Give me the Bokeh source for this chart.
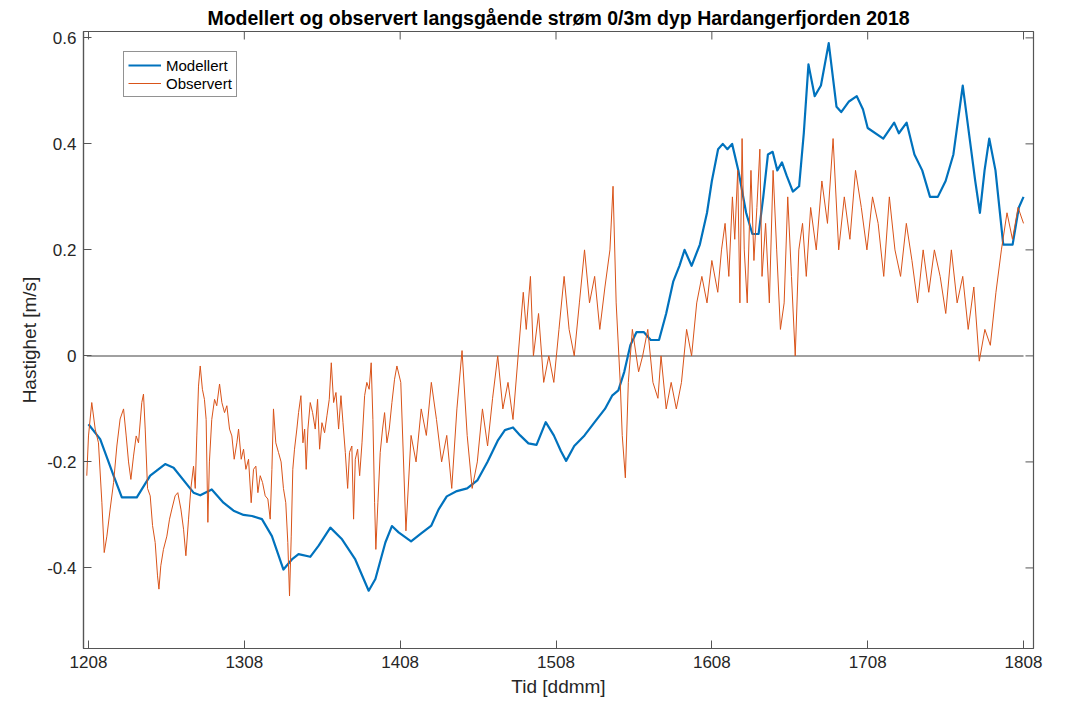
from bokeh.plotting import figure
from bokeh.models import FixedTicker, Legend, LegendItem, Range1d, ColumnDataSource
from bokeh.embed import file_html
from bokeh.resources import INLINE

# ---------------- data ----------------
title_text = "Modellert og observert langsgående strøm 0/3m dyp Hardangerfjorden 2018"
x_label = "Tid [ddmm]"
y_label = "Hastighet [m/s]"
series_names = ["Modellert", "Observert"]

x_ticks = [12, 13, 14, 15, 16, 17, 18]
x_tick_labels = ["1208", "1308", "1408", "1508", "1608", "1708", "1808"]
y_ticks = [-0.4, -0.2, 0, 0.2, 0.4, 0.6]
y_tick_labels = ["-0.4", "-0.2", "0", "0.2", "0.4", "0.6"]

# time in days of August 2018
mod_t = [12.0, 12.075, 12.161, 12.214, 12.31, 12.396, 12.492, 12.546, 12.674, 12.717,
         12.791, 12.866, 12.931, 12.995, 13.049, 13.113, 13.177, 13.251, 13.305, 13.348,
         13.423, 13.477, 13.552, 13.627, 13.712, 13.798, 13.841, 13.905, 13.947, 13.99,
         14.07, 14.135, 14.2, 14.246, 14.299, 14.364, 14.43, 14.495, 14.56, 14.626,
         14.672, 14.724, 14.77, 14.823, 14.875, 14.934, 14.986, 15.032, 15.065, 15.117,
         15.183, 15.248, 15.314, 15.36, 15.4, 15.438, 15.477, 15.517, 15.563, 15.608,
         15.661, 15.707, 15.752, 15.792, 15.825, 15.87, 15.923, 15.969,
         16.0, 16.04, 16.07, 16.1, 16.13, 16.17, 16.22, 16.26, 16.3, 16.33,
         16.36, 16.39, 16.42, 16.45, 16.48, 16.52, 16.56, 16.59, 16.62, 16.66,
         16.7, 16.75, 16.8, 16.83, 16.88, 16.93, 16.97, 17.0,
         17.1, 17.17, 17.2, 17.25, 17.3, 17.35, 17.4, 17.45, 17.5, 17.55,
         17.61, 17.65, 17.69, 17.72, 17.75, 17.78, 17.82, 17.87, 17.93, 17.97, 18.0]
mod_v = [-0.129, -0.157, -0.226, -0.267, -0.267, -0.226, -0.204, -0.211, -0.258, -0.263,
         -0.252, -0.277, -0.292, -0.30, -0.302, -0.308, -0.34, -0.403, -0.384, -0.374,
         -0.379, -0.358, -0.324, -0.346, -0.384, -0.443, -0.421, -0.352, -0.321, -0.333,
         -0.35, -0.335, -0.32, -0.29, -0.265, -0.255, -0.25, -0.235, -0.2, -0.16,
         -0.14, -0.135, -0.15, -0.165, -0.168, -0.125, -0.15, -0.18, -0.198, -0.17,
         -0.15, -0.125, -0.1, -0.075, -0.065, -0.03, 0.02, 0.045, 0.045, 0.03,
         0.03, 0.08, 0.14, 0.17, 0.2, 0.17, 0.21, 0.27,
         0.33, 0.39, 0.40, 0.39, 0.40, 0.35, 0.27, 0.23, 0.23, 0.30,
         0.38, 0.385, 0.35, 0.365, 0.34, 0.31, 0.32, 0.42, 0.55, 0.49,
         0.51, 0.59, 0.47, 0.46, 0.48, 0.49, 0.465, 0.43,
         0.41, 0.44, 0.42, 0.44, 0.38, 0.35, 0.30, 0.30, 0.33, 0.38,
         0.51, 0.42, 0.33, 0.27, 0.35, 0.41, 0.35, 0.21, 0.21, 0.28, 0.30]

obs_t = [11.989, 12.0, 12.021, 12.043, 12.064, 12.086, 12.101, 12.118, 12.139, 12.161,
         12.182, 12.203, 12.225, 12.242, 12.257, 12.272, 12.289, 12.306, 12.321, 12.342,
         12.353, 12.364, 12.379, 12.396, 12.411, 12.428, 12.443, 12.452, 12.464, 12.481,
         12.503, 12.52, 12.535, 12.556, 12.573, 12.593, 12.61, 12.625, 12.642, 12.657,
         12.674, 12.685, 12.695, 12.706, 12.717, 12.731, 12.744, 12.755, 12.766, 12.776,
         12.791, 12.809, 12.823, 12.841, 12.856, 12.873, 12.888, 12.905, 12.92, 12.935,
         12.952,
         12.963, 12.98, 12.995, 13.01, 13.027, 13.044, 13.059, 13.074, 13.087, 13.102,
         13.117, 13.134, 13.151, 13.166, 13.177, 13.187, 13.202, 13.219, 13.236, 13.251,
         13.266, 13.279, 13.29, 13.301, 13.311, 13.322, 13.337, 13.348, 13.363, 13.376,
         13.387, 13.397, 13.408, 13.423, 13.438, 13.455, 13.47, 13.483, 13.498, 13.515,
         13.53, 13.545, 13.558, 13.573, 13.588, 13.605, 13.62, 13.633, 13.648, 13.663,
         13.675, 13.69, 13.701, 13.712, 13.727, 13.74, 13.755, 13.772, 13.786, 13.801,
         13.814, 13.825, 13.836, 13.844, 13.857, 13.872, 13.887, 13.9, 13.915, 13.93,
         13.947, 13.964, 13.979,
         14.004, 14.037, 14.07, 14.102, 14.135, 14.168, 14.2, 14.233, 14.266, 14.299,
         14.331, 14.364, 14.397, 14.43, 14.462, 14.495, 14.528, 14.561, 14.593, 14.626,
         14.659, 14.692, 14.724, 14.757, 14.79, 14.809, 14.836, 14.855, 14.888, 14.921,
         14.954, 14.986, 15.019, 15.052, 15.084, 15.117, 15.15, 15.183, 15.215, 15.248,
         15.281, 15.314, 15.346, 15.366, 15.386, 15.412, 15.425, 15.445, 15.464, 15.49,
         15.53, 15.556, 15.589, 15.622, 15.654, 15.674, 15.707, 15.739, 15.772, 15.805,
         15.838, 15.87, 15.903, 15.936, 15.969, 16.0,
         16.038, 16.062, 16.085, 16.109, 16.132, 16.147, 16.166, 16.18, 16.194, 16.208,
         16.227, 16.251, 16.27, 16.289, 16.308, 16.322, 16.345, 16.369, 16.393, 16.416,
         16.44, 16.464, 16.487, 16.511, 16.535, 16.558, 16.582, 16.606, 16.634, 16.67,
         16.706, 16.742, 16.778, 16.814, 16.85, 16.886, 16.922, 16.959, 16.995, 17.031,
         17.067, 17.103, 17.139, 17.175, 17.211, 17.248, 17.284, 17.32, 17.356, 17.392,
         17.428, 17.465, 17.501, 17.537, 17.574, 17.61, 17.645, 17.681, 17.716, 17.752,
         17.787, 17.823, 17.858, 17.894, 17.929, 17.965, 18.0]
obs_v = [-0.226, -0.151, -0.088, -0.138, -0.164, -0.277, -0.371, -0.34, -0.289, -0.239,
         -0.17, -0.119, -0.10, -0.151, -0.20, -0.233, -0.189, -0.151, -0.164, -0.088,
         -0.072, -0.138, -0.25, -0.264, -0.32, -0.352, -0.415, -0.44, -0.396, -0.365,
         -0.34, -0.308, -0.289, -0.264, -0.258, -0.289, -0.327, -0.377, -0.308, -0.25,
         -0.208, -0.25, -0.151, -0.057, -0.019, -0.063, -0.082, -0.12, -0.314, -0.20,
         -0.12, -0.082, -0.094, -0.053, -0.088, -0.107, -0.094, -0.138, -0.151, -0.195,
         -0.164,
         -0.138, -0.195, -0.176, -0.214, -0.195, -0.277, -0.214, -0.208, -0.258, -0.226,
         -0.239, -0.264, -0.27, -0.308, -0.214, -0.10, -0.164, -0.182, -0.20, -0.25,
         -0.277, -0.352, -0.453, -0.34, -0.214, -0.176, -0.138, -0.107, -0.075, -0.164,
         -0.138, -0.214, -0.138, -0.088, -0.107, -0.138, -0.082, -0.176, -0.126, -0.145,
         -0.113, -0.082, -0.013, -0.088, -0.069, -0.138, -0.075, -0.126, -0.182, -0.25,
         -0.182, -0.17, -0.308, -0.195, -0.176, -0.226, -0.164, -0.075, -0.05, -0.063,
         -0.013, -0.12, -0.277, -0.365, -0.277, -0.182, -0.138, -0.107, -0.164, -0.138,
         -0.088, -0.044, -0.019,
         -0.05, -0.33, -0.15, -0.2, -0.1, -0.15, -0.05, -0.12, -0.2, -0.15,
         -0.25, -0.1, 0.01, -0.15, -0.25, -0.2, -0.1, -0.17, -0.08, 0.0,
         -0.1, -0.05, -0.12, 0.0, 0.12, 0.05, 0.15, 0.0, 0.08, -0.05,
         0.0, -0.05, 0.05, 0.15, 0.05, 0.0, 0.1, 0.2, 0.1, 0.15,
         0.05, 0.13, 0.2, 0.32, 0.1, -0.05, -0.15, -0.23, -0.05, 0.05,
         -0.03, 0.0, 0.05, -0.05, -0.08, 0.0, -0.1, -0.05, -0.1, -0.05,
         0.05, 0.0, 0.1, 0.15, 0.1, 0.18,
         0.12, 0.2, 0.25, 0.15, 0.3, 0.22, 0.35, 0.1, 0.41, 0.2,
         0.1, 0.35, 0.18, 0.28, 0.39, 0.15, 0.25, 0.1, 0.35, 0.2,
         0.05, 0.1, 0.3, 0.15, 0.0, 0.2, 0.25, 0.15, 0.28, 0.2,
         0.33, 0.25, 0.41, 0.2, 0.3, 0.22, 0.35, 0.28, 0.2, 0.3,
         0.25, 0.15, 0.3, 0.2, 0.15, 0.25, 0.18, 0.1, 0.2, 0.12,
         0.2, 0.15, 0.08, 0.2, 0.1, 0.15, 0.05, 0.13, -0.01, 0.05,
         0.02, 0.12, 0.2, 0.27, 0.22, 0.28, 0.25]

# ---------------- styling ----------------
FONT = "Liberation Sans"
AX_COLOR = "#262626"
LINE_GREY = "#555555"
BLUE = "#0072BD"
ORANGE = "#D95319"

W, H = 1066, 703
X0, X1 = 11.968, 18.064
Y0, Y1 = -0.552, 0.612
FRAME_W, FRAME_H = 950, 617
TICK_PX = 8

p = figure(width=W, height=H, output_backend="svg", toolbar_location=None,
           x_range=Range1d(X0, X1), y_range=Range1d(Y0, Y1),
           min_border_left=83, min_border_right=33, min_border_top=31,
           min_border_bottom=55)
p.xgrid.visible = False
p.ygrid.visible = False
p.outline_line_color = LINE_GREY
p.outline_line_width = 1.2
p.background_fill_color = "white"
p.border_fill_color = "white"

# title
p.title.text = title_text
p.title.align = "center"
p.title.text_font = FONT
p.title.text_font_size = "19.5px"
p.title.text_font_style = "bold"
p.title.text_color = "black"
p.title.standoff = 5

for ax, ticks, labels in ((p.xaxis[0], x_ticks, x_tick_labels),
                          (p.yaxis[0], y_ticks, y_tick_labels)):
    ax.ticker = FixedTicker(ticks=ticks)
    ax.major_label_overrides = dict(zip(ticks, labels))
    ax.axis_line_color = LINE_GREY
    ax.axis_line_width = 1.2
    ax.major_tick_line_color = LINE_GREY
    ax.major_tick_line_width = 1
    ax.major_tick_in = TICK_PX
    ax.major_tick_out = 0
    ax.minor_tick_line_color = None
    ax.major_label_text_font = FONT
    ax.major_label_text_font_size = "17px"
    ax.major_label_text_color = AX_COLOR
    ax.major_label_standoff = 7
    ax.axis_label_text_font = FONT
    ax.axis_label_text_font_size = "19px"
    ax.axis_label_text_font_style = "normal"
    ax.axis_label_text_color = AX_COLOR
p.xaxis[0].axis_label = x_label
p.yaxis[0].axis_label = y_label
p.xaxis[0].axis_label_standoff = 5
p.yaxis[0].axis_label_standoff = 4

# mirrored tick marks on the top and right edges of the box
dy = TICK_PX * (Y1 - Y0) / FRAME_H
dx = TICK_PX * (X1 - X0) / FRAME_W
p.segment(x0=x_ticks, x1=x_ticks, y0=[Y1] * len(x_ticks), y1=[Y1 - dy] * len(x_ticks),
          line_color=LINE_GREY, line_width=1)
p.segment(x0=[X1] * len(y_ticks), x1=[X1 - dx] * len(y_ticks), y0=y_ticks, y1=y_ticks,
          line_color=LINE_GREY, line_width=1)

# zero reference line
p.line(x=[min(obs_t), max(obs_t)], y=[0, 0], line_color="#808080", line_width=1.5)

src_mod = ColumnDataSource(dict(t=mod_t, v=mod_v))
src_obs = ColumnDataSource(dict(t=obs_t, v=obs_v))
r_mod = p.line("t", "v", source=src_mod, line_color=BLUE, line_width=2.2,
               line_join="round")
r_obs = p.line("t", "v", source=src_obs, line_color=ORANGE, line_width=1,
               line_join="round")

legend = Legend(items=[LegendItem(label=series_names[0], renderers=[r_mod]),
                       LegendItem(label=series_names[1], renderers=[r_obs])],
                location=(40, 551), margin=0, padding=4, spacing=0,
                glyph_width=33, glyph_height=18, label_height=18,
                label_standoff=5, label_text_font=FONT,
                label_text_font_size="15px", label_text_color="black",
                border_line_color=AX_COLOR, border_line_width=1,
                background_fill_color="white", background_fill_alpha=1)
p.add_layout(legend)

open("out.html", "w").write(file_html(p, INLINE))
